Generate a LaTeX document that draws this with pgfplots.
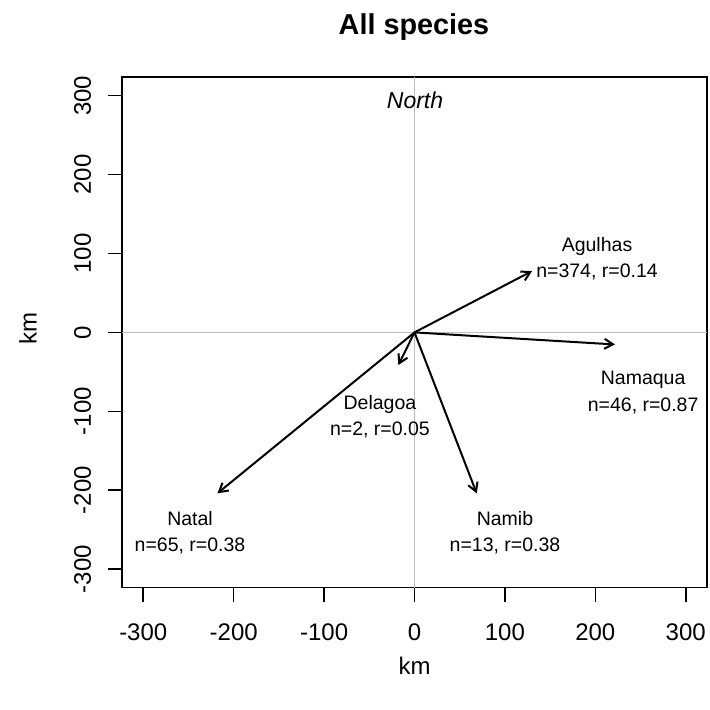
\documentclass[border=0pt]{standalone}
\usepackage{fontspec}
\setmainfont{Liberation Sans}
\usepackage{pgfplots}
\pgfplotsset{compat=1.18}
\usetikzlibrary{arrows.meta}
\definecolor{rgray}{HTML}{BEBEBE}
\tikzset{vec/.style={black, line width=2bp, mark=none,
    -{Straight Barb[angle=60:10bp, line width=2bp]}}}

\begin{document}
\begin{tikzpicture}
\path[use as bounding box] (-122.3bp,-122.5bp) rectangle (587.7bp,587.5bp);
\begin{axis}[
    at={(0,0)}, anchor=south west,
    scale only axis, width=584.4bp, height=510.2bp,
    xmin=-323.2, xmax=323.2,
    ymin=-323.3, ymax=323.3,
    axis line style={line width=1.6bp},
    tick pos=left, tick align=outside,
    major tick length=14bp,
    tick style={line width=1.6bp, black},
    xtick={-300,-200,-100,0,100,200,300},
    ytick={-300,-200,-100,0,100,200,300},
    xticklabels={-300,-200,-100,0,100,200,300},
    yticklabels={-300,-200,-100,0,100,200,300},
    ticklabel style={font=\fontsize{24bp}{28bp}\selectfont},
    xticklabel style={anchor=base, yshift=-39bp},
    yticklabel style={xshift=-17.5bp, rotate=90, anchor=base},
    title={All species},
    title style={at={(axis description cs:0.4991,1.0858)}, anchor=center,
        font=\bfseries\fontsize{28.8bp}{34bp}\selectfont},
    xlabel={km}, ylabel={km},
    xlabel style={at={(axis description cs:0.5,-0.1539)}, anchor=center,
        font=\fontsize{24bp}{28bp}\selectfont},
    ylabel style={at={(axis description cs:-0.1614,0.5086)}, anchor=center,
        rotate=0, font=\fontsize{24bp}{28bp}\selectfont},
    clip=false,
]
% reference lines through the origin
\addplot[rgray, line width=1.5bp, mark=none] coordinates {(-323.2,0) (323.2,0)};
\addplot[rgray, line width=1.5bp, mark=none] coordinates {(0,-323.3) (0,323.3)};

% mean displacement vectors
\addplot[vec] coordinates {(0,0) (130,77.7)};    % Agulhas
\addplot[vec] coordinates {(0,0) (221.8,-15.3)}; % Namaqua
\addplot[vec] coordinates {(0,0) (-17.9,-41.4)}; % Delagoa
\addplot[vec] coordinates {(0,0) (-218,-204)};   % Natal
\addplot[vec] coordinates {(0,0) (68.8,-204)};   % Namib

\begin{scope}[every node/.style={align=center, font=\fontsize{19.5bp}{26.5bp}\selectfont}]
\node at (axis cs:201.9,93.5) {Agulhas\\n=374, r=0.14};
\node at (axis cs:252.9,-76.3) {Namaqua\\n=46, r=0.87};
\node at (axis cs:-38.2,-106.7) {Delagoa\\n=2, r=0.05};
\node at (axis cs:-248.3,-253.7) {Natal\\n=65, r=0.38};
\node at (axis cs:100.1,-254) {Namib\\n=13, r=0.38};
\end{scope}
\node[font=\itshape\fontsize{23bp}{28bp}\selectfont] at (axis cs:0.6,293.8) {North};
\end{axis}
\end{tikzpicture}
\end{document}
